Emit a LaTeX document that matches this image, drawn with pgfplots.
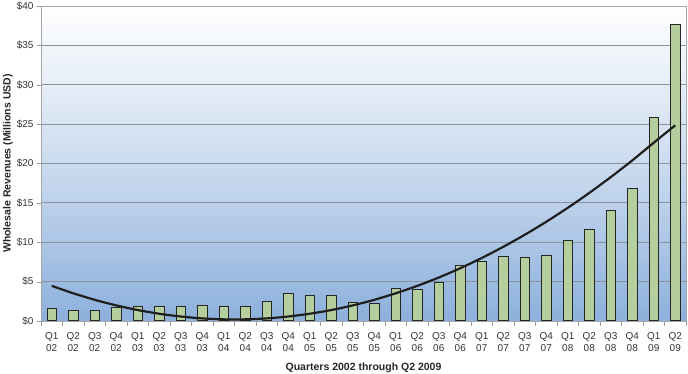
\documentclass[border=0pt]{standalone}
\usepackage{pgfplots}
\pgfplotsset{compat=1.18}
\usepackage{fontspec}
\setmainfont{Liberation Sans}
\definecolor{bgbot}{RGB}{140,176,220}
\definecolor{barfill}{RGB}{181,206,158}
\definecolor{gridc}{RGB}{140,146,156}
\begin{document}
\begin{tikzpicture}[x=1pt,y=1pt]
\path[use as bounding box] (0,0) rectangle (688,374);
\begin{axis}[
  at={(41pt,53pt)}, anchor=south west,
  scale only axis, width=645pt, height=315pt,
  xmin=-0.5, xmax=29.5, ymin=0, ymax=40,
  axis background/.style={shade, top color=white, bottom color=bgbot, middle color={bgbot!45!white}},
  axis line style={draw=gray!70},
  ymajorgrids, grid style={draw=gridc, line width=0.8pt},
  ytick={0,5,...,40},
  yticklabels={\$0,\$5,\$10,\$15,\$20,\$25,\$30,\$35,\$40},
  xtick={0,...,29},
  xticklabels={{Q1\\02},{Q2\\02},{Q3\\02},{Q4\\02},{Q1\\03},{Q2\\03},{Q3\\03},{Q4\\03},{Q1\\04},{Q2\\04},{Q3\\04},{Q4\\04},{Q1\\05},{Q2\\05},{Q3\\05},{Q4\\05},{Q1\\06},{Q2\\06},{Q3\\06},{Q4\\06},{Q1\\07},{Q2\\07},{Q3\\07},{Q4\\07},{Q1\\08},{Q2\\08},{Q3\\08},{Q4\\08},{Q1\\09},{Q2\\09}},
  x tick label style={align=center, font=\fontsize{10}{12}\selectfont, text=black!80, yshift=-4pt},
  y tick label style={font=\fontsize{10}{12}\selectfont, text=black!80},
  major x tick style={draw=none},
  minor xtick={-0.5,0.5,...,29.5},
  minor x tick style={draw=gray!80},
  minor tick length=5pt,
  major tick length=4pt,
  ytick style={draw=gray!80},
  tick align=outside,
  xtick pos=bottom, ytick pos=left,
  xlabel={\textbf{Quarters 2002 through Q2 2009}},
  ylabel={\textbf{Wholesale Revenues (Millions USD)}},
  label style={font=\fontsize{10.5}{12}\selectfont, text=black!85},
  xlabel style={yshift=-4pt},
  ylabel style={yshift=-3pt},
]
\addplot[ybar, bar width=9.5pt, fill=barfill, draw=black!85, line width=1pt] coordinates {
(0,1.56) (1,1.27) (2,1.36) (3,1.69) (4,1.82) (5,1.90) (6,1.82) (7,1.99) (8,1.82) (9,1.90)
(10,2.50) (11,3.50) (12,3.20) (13,3.20) (14,2.37) (15,2.20) (16,4.15) (17,4.00) (18,4.95) (19,7.00)
(20,7.53) (21,8.17) (22,8.04) (23,8.26) (24,10.16) (25,11.65) (26,13.97) (27,16.85) (28,25.87) (29,37.70)
};
\addplot[smooth, line width=2.2pt, draw=black!88, mark=none] coordinates {
(0,4.46) (1,3.52) (2,2.69) (3,1.98) (4,1.39) (5,0.92) (6,0.57) (7,0.33) (8,0.21) (9,0.21)
(10,0.33) (11,0.57) (12,0.92) (13,1.39) (14,1.98) (15,2.69) (16,3.52) (17,4.46) (18,5.52) (19,6.70)
(20,8.00) (21,9.42) (22,10.95) (23,12.60) (24,14.37) (25,16.26) (26,18.27) (27,20.39) (28,22.64) (29,24.85)
};
\end{axis}
\end{tikzpicture}
\end{document}
